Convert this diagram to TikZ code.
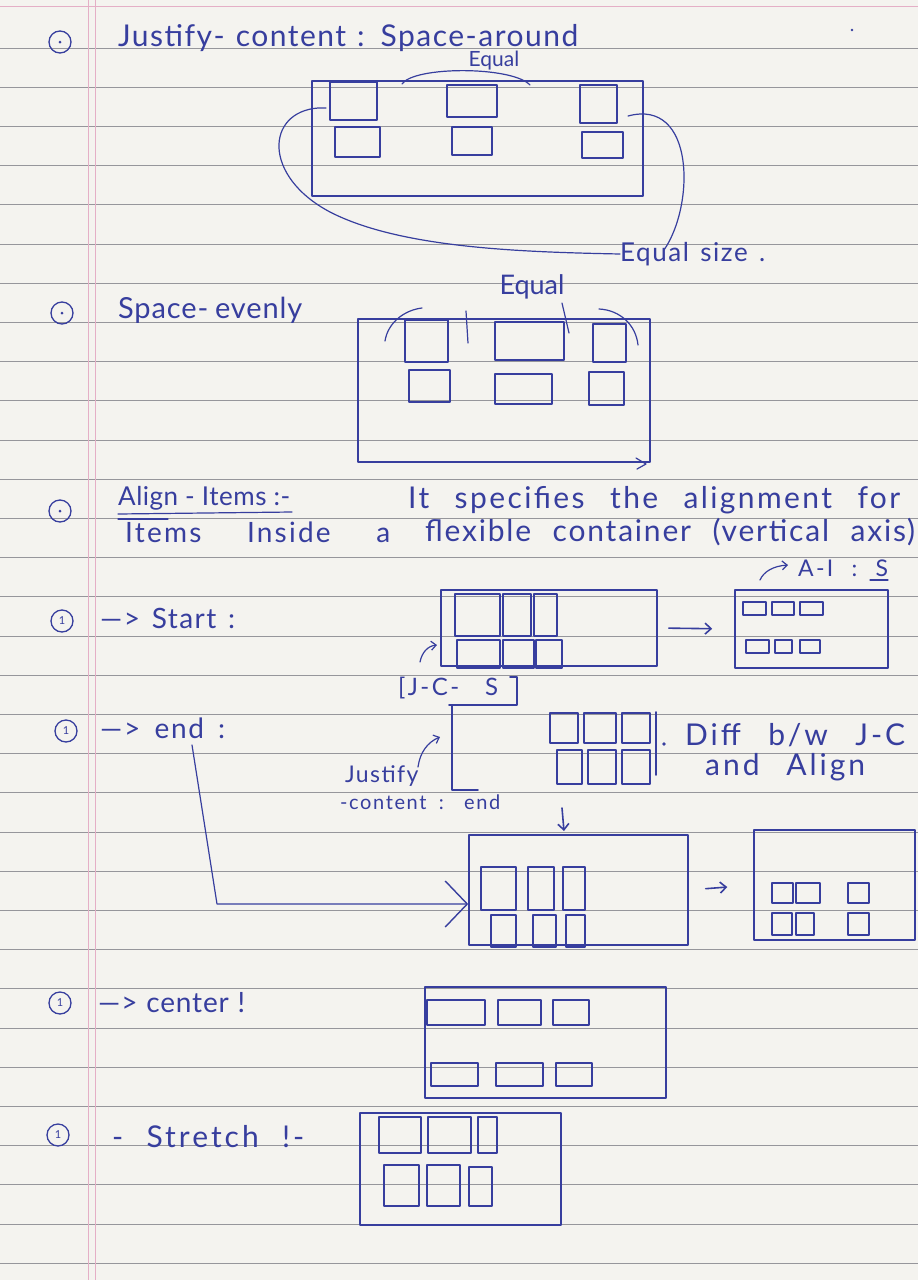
\documentclass[tikz,border=0pt]{standalone}
\usepackage{fontspec}
\setmainfont{Lato}
\usetikzlibrary{arrows.meta,fit,calc}
\definecolor{paper}{RGB}{244,243,239}
\definecolor{rulegray}{RGB}{150,150,155}
\definecolor{marginpink}{RGB}{228,175,198}
\definecolor{ink}{RGB}{55,62,158}
\newcommand{\hwsize}[1]{\fontsize{#1}{#1}\selectfont}
% handwritten line: font size, letter spacing, spread width (pt), text
\newcommand{\hwt}[4]{\fontsize{#1}{#1}\selectfont\addfontfeature{LetterSpace=#2}\makebox[#3pt][s]{#4}}
% item box and container box helpers: name, x1, y1, x2, y2
\newcommand{\ibx}[5]{\node[ibox, fit={(#2,#3) (#4,#5)}] (#1) {};}
\newcommand{\cbx}[5]{\node[cbox, fit={(#2,#3) (#4,#5)}] (#1) {};}
\tikzset{
  pen/.style={draw=ink, line width=1.6pt, line cap=round, line join=round},
  thinpen/.style={draw=ink, line width=1.2pt, line cap=round, line join=round},
  cbox/.style={pen, inner sep=0pt},
  ibox/.style={draw=ink, line width=1.4pt, inner sep=0pt, line join=round},
  lbl/.style={text=ink, inner sep=0pt, anchor=west},
  num/.style={circle, draw=ink, line width=1.3pt, minimum size=22pt, inner sep=0pt, text=ink, font=\hwsize{11}},
  harrow/.style={pen, -{Straight Barb[length=6pt,width=11pt]}},
  sarrow/.style={thinpen, -{Straight Barb[length=5pt,width=9pt]}},
}
\begin{document}
\begin{tikzpicture}[x=1pt,y=-1pt]
% paper, rules and margin
\fill[paper] (0,0) rectangle (918,1280);
\useasboundingbox (0,0) rectangle (918,1280);
\draw[marginpink, line width=0.8pt] (0,6) -- (918,6);
\foreach \k in {0,...,31}
  \draw[rulegray, line width=0.8pt] (0,{48+39.2*\k}) -- (918,{48+39.2*\k});
\draw[marginpink, line width=0.8pt] (88,0) -- (88,1280);
\draw[marginpink, line width=0.8pt] (95,0) -- (95,1280);

% ---------- justify-content: space-around ----------
\node[num] (n1) at (60,42) {};
\fill[ink] (n1.center) circle (1.5pt);
\node[lbl] (t1) at (118,38) {\hwt{30}{5}{460}{Justify- content : Space-around}};
\node[text=ink, inner sep=0pt, font=\hwsize{21}] (eq1) at (494,61) {Equal};
\fill[ink] (852,30) circle (1.4pt);
\cbx{A}{312}{81}{643}{196}
\ibx{A1t}{330}{82}{377}{120}
\ibx{A1b}{335}{127}{380}{157}
\ibx{A2t}{447}{85}{497}{117}
\ibx{A2b}{452}{127}{492}{155}
\ibx{A3t}{580}{85}{617}{123}
\ibx{A3b}{582}{132}{623}{158}
\draw[thinpen] (402,84) .. controls (414,66) and (512,66) .. (530,85);
\node[lbl] (eqs) at (620,254) {\hwt{26}{6}{145}{Equal size .}};
\draw[thinpen] (326,108) -- (318,108) .. controls (266,112) and (262,176) .. (330,212)
  .. controls (400,248) and (520,252) .. (eqs.west);
\draw[thinpen] (628,116) .. controls (695,98) and (695,205) .. (664,250);

% ---------- space-evenly ----------
\node[num] (n2) at (62,313) {};
\fill[ink] (n2.center) circle (1.5pt);
\node[lbl] (t2) at (118,310) {\hwt{29}{3}{184}{Space- evenly}};
\node[text=ink, inner sep=0pt, font=\hwsize{27}] (eq2) at (532,287) {Equal};
\cbx{B}{358}{319}{650}{462}
\ibx{B1t}{405}{320}{448}{362}
\ibx{B1b}{409}{370}{450}{402}
\ibx{B2t}{495}{322}{564}{360}
\ibx{B2b}{495}{374}{552}{404}
\ibx{B3t}{593}{324}{626}{362}
\ibx{B3b}{589}{372}{624}{405}
\draw[thinpen] (636,458) -- (646,464) -- (637,469);
\draw[thinpen] (385,341) .. controls (388,322) and (405,310) .. (422,308);
\draw[thinpen] (466,311) -- (468,343);
\draw[thinpen] (562,303) -- (569,333);
\draw[thinpen] (599,309) .. controls (620,310) and (636,325) .. (638,345);

% ---------- align-items ----------
\node[num] (n3) at (60,511) {};
\fill[ink] (n3.center) circle (1.5pt);
\node[lbl] (t3a) at (118,498) {\hwt{26}{2}{172}{Align - Items :-}};
\draw[thinpen] (118,514) -- (292,512);
\draw[thinpen] (118,519) -- (168,519);
\node[lbl] (t3b) at (125,532) {\hwt{28}{8}{265}{Items Inside a}};
\node[lbl] (t3c) at (408,500) {\hwt{30}{8}{492}{It specifies the alignment for}};
\node[lbl] (t3d) at (425,532) {\hwt{30}{6}{490}{flexible container (vertical axis)}};
\node[lbl] (ais) at (798,568) {\hwt{23}{10}{90}{A-I : S}};
\draw[sarrow] (760,580) .. controls (764,571) and (774,566) .. (788,565);
\draw[thinpen] (870,580) -- (888,580);

% ---------- start ----------
\node[num] (n4) at (62,621) {1};
\node[lbl] (t4) at (100,618) {\hwt{28}{5}{135}{—> Start :}};
\cbx{S}{441}{590}{657}{666}
\ibx{S1}{455}{594}{500}{636}
\ibx{S2}{503}{594}{531}{636}
\ibx{S3}{534}{594}{557}{636}
\ibx{S4}{457}{640}{500}{668}
\ibx{S5}{503}{640}{534}{668}
\ibx{S6}{536}{640}{562}{668}
\draw[sarrow] (420,662) .. controls (422,652) and (428,646) .. (437,645);
\node[lbl] (jcs) at (398,688) {\hwt{24}{10}{100}{[J-C- S}};
\cbx{R}{735}{590}{888}{668}
\ibx{R1}{743}{602}{766}{615}
\ibx{R2}{772}{602}{794}{615}
\ibx{R3}{800}{602}{823}{615}
\ibx{R4}{746}{640}{769}{653}
\ibx{R5}{775}{640}{792}{653}
\ibx{R6}{800}{640}{820}{653}
\draw[harrow, shorten <=11pt, shorten >=22pt] (S.east) -- (R.west);

% ---------- end ----------
\node[num] (n5) at (66,731) {1};
\node[lbl] (t5) at (100,728) {\hwt{28}{6}{125}{—> end :}};
\draw[pen] (449,705) -- (517,705) -- (517,677) -- (510,677);
\draw[pen] (452,705) -- (452,790) -- (478,790);
\ibx{E1}{550}{713}{578}{743}
\ibx{E2}{584}{713}{616}{743}
\ibx{E3}{622}{713}{650}{743}
\ibx{E4}{557}{750}{582}{784}
\ibx{E5}{588}{750}{616}{784}
\ibx{E6}{622}{750}{650}{784}
\draw[pen] (656,712) -- (656,775);
\fill[ink] (664,744) circle (1.8pt);
\node[lbl] (diff) at (685,735) {\hwt{30}{10}{220}{Diff b/w J-C}};
\node[lbl] (andal) at (705,767) {\hwt{30}{10}{160}{and Align}};
\node[lbl] (jus) at (345,776) {\hwt{23}{6}{75}{Justify}};
\node[lbl] (jce) at (340,802) {\hwt{20}{8}{160}{-content : end}};
\draw[sarrow] (418,767) .. controls (420,752) and (428,742) .. (440,737);
\coordinate (dtop) at (562,808);
\coordinate (dbot) at (564,831);
\draw[harrow] (dtop) -- (dbot);

\cbx{F}{469}{835}{688}{945}
\ibx{F1}{481}{867}{516}{910}
\ibx{F2}{528}{867}{554}{910}
\ibx{F3}{563}{867}{585}{910}
\ibx{F4}{491}{915}{516}{947}
\ibx{F5}{533}{915}{556}{947}
\ibx{F6}{566}{915}{585}{947}
\coordinate (etail) at (192,745);
\coordinate (ebend) at (217,904);
\draw[thinpen, -{Straight Barb[length=22pt,width=46pt,line width=1.4pt]}] (etail) -- (ebend) -- (F.west |- ebend);

\cbx{G}{754}{830}{915}{940}
\ibx{G1}{772}{883}{793}{903}
\ibx{G2}{796}{883}{820}{903}
\ibx{G3}{848}{883}{869}{903}
\ibx{G4}{772}{913}{792}{935}
\ibx{G5}{796}{913}{814}{935}
\ibx{G6}{848}{913}{869}{935}
\draw[harrow, shorten <=17pt, shorten >=26pt] (F.east) -- (G.west);

% ---------- center ----------
\node[num] (n6) at (60,1003) {1};
\node[lbl] (t6) at (98,1003) {\hwt{28}{3}{147}{—> center !}};
\cbx{C}{425}{987}{666}{1098}
\ibx{C1}{427}{1000}{485}{1025}
\ibx{C2}{498}{1000}{541}{1025}
\ibx{C3}{553}{1000}{589}{1025}
\ibx{C4}{431}{1063}{478}{1086}
\ibx{C5}{496}{1063}{543}{1086}
\ibx{C6}{556}{1063}{592}{1086}

% ---------- stretch ----------
\node[num] (n7) at (58,1135) {1};
\node[lbl] (t7) at (112,1137) {\hwt{30}{10}{192}{- Stretch !-}};
\cbx{T}{360}{1113}{561}{1225}
\ibx{T1}{379}{1117}{421}{1153}
\ibx{T2}{428}{1117}{471}{1153}
\ibx{T3}{478}{1117}{497}{1153}
\ibx{T4}{384}{1165}{419}{1206}
\ibx{T5}{427}{1165}{460}{1206}
\ibx{T6}{469}{1167}{492}{1206}
\end{tikzpicture}
\end{document}
